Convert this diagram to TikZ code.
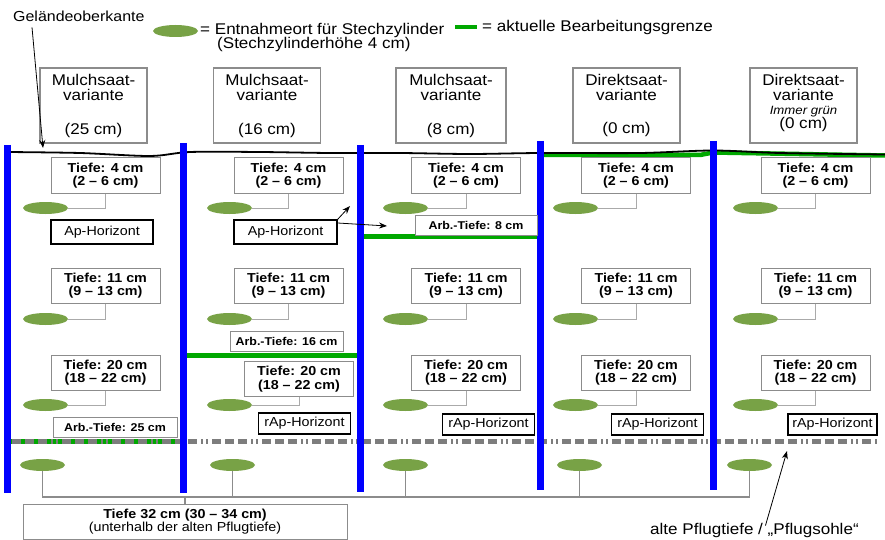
\documentclass[tikz,border=0pt]{standalone}
\usepackage{fontspec}
\setmainfont{Liberation Sans}[FakeStretch=1.1]
\usetikzlibrary{shapes.geometric,arrows.meta}
\definecolor{sblue}{RGB}{0,0,255}
\definecolor{sgreen}{RGB}{0,168,0}
\definecolor{ellgreen}{RGB}{120,162,70}
\definecolor{boxgray}{RGB}{140,140,140}
\definecolor{linegray}{RGB}{170,170,170}
\definecolor{busgray}{RGB}{140,140,140}
\definecolor{dashgray}{RGB}{125,125,125}
\tikzset{
  hdr/.style={draw=boxgray, line width=1.2pt, fill=white, minimum width=107pt, minimum height=75pt, inner sep=0pt},
  htxt/.style={font=\fontsize{15.5}{17}\selectfont, anchor=base, inner sep=0pt},
  itxt/.style={font=\itshape\fontsize{12}{14}\selectfont, anchor=base, inner sep=0pt},
  tbox/.style={draw=boxgray, line width=1pt, fill=white, minimum width=109pt, minimum height=35pt, inner sep=0pt, align=center, font=\bfseries\fontsize{13}{13.5}\selectfont},
  samp/.style={ellipse, fill=ellgreen, minimum width=45pt, minimum height=12pt, inner sep=0pt},
  hor/.style={draw=black, line width=1.3pt, fill=white, minimum width=102pt, minimum height=24pt, inner sep=0pt, font=\fontsize{13}{15}\selectfont},
  rhor/.style={draw=black, line width=1.3pt, fill=white, minimum width=92pt, minimum height=21pt, inner sep=0pt, font=\fontsize{13}{15}\selectfont},
  arb/.style={draw=boxgray, line width=1pt, fill=white, minimum height=20pt, inner sep=0pt, font=\bfseries\fontsize{11.3}{13}\selectfont},
  conn/.style={draw=linegray, line width=1pt},
  bconn/.style={draw=busgray, line width=1.3pt},
  bluel/.style={draw=sblue, line width=7pt},
  grl/.style={draw=sgreen, line width=5pt},
  plough/.style={draw=dashgray, line width=5pt, dash pattern=on 9pt off 4pt on 9pt off 4pt on 9pt off 4pt on 2pt off 3pt on 2pt off 4pt},
  ptr/.style={draw=black, line width=0.8pt, -{Stealth[length=8pt,width=6pt]}},
  lgtxt/.style={font=\fontsize{15.5}{17}\selectfont, anchor=base west, inner sep=0pt}
}
\begin{document}
\begin{tikzpicture}[x=1pt,y=-1pt]
\useasboundingbox[fill=white] (0,0) rectangle (885,540);

% legend
\node[font=\fontsize{14.5}{17}\selectfont, anchor=base west, inner sep=0pt] (geo) at (13,21.5) {Geländeoberkante};
\node[samp] (lell) at (175.5,31) {};
\node[lgtxt] (lt1) at (200,35) {= Entnahmeort für Stechzylinder};
\node[lgtxt] (lt2) at (217,49) {(Stechzylinderhöhe 4 cm)};
\coordinate (lgA) at (455,27.5);
\coordinate (lgB) at (477,27.5);
\draw[sgreen, line width=4pt] (lgA) -- (lgB);
\node[lgtxt] (lt3) at (482,32) {= aktuelle Bearbeitungsgrenze};

% header boxes
\node[hdr] (h1) at (93.5,105.5) {};
\node[hdr] (h2) at (267,105.5) {};
\node[hdr, minimum width=110pt] (h3) at (451,105.5) {};
\node[hdr] (h4) at (626.5,105.5) {};
\node[hdr] (h5) at (803.5,105.5) {};
\node[htxt] at (93.5,86) {Mulchsaat-};
\node[htxt] at (93.5,101) {variante};
\node[htxt] at (93.5,135) {(25 cm)};
\node[htxt] at (267,86) {Mulchsaat-};
\node[htxt] at (267,101) {variante};
\node[htxt] at (267,135) {(16 cm)};
\node[htxt] at (451,86) {Mulchsaat-};
\node[htxt] at (451,101) {variante};
\node[htxt] at (451,135) {(8 cm)};
\node[htxt] at (626.5,86) {Direktsaat-};
\node[htxt] at (626.5,101) {variante};
\node[htxt] at (626.5,134) {(0 cm)};
\node[htxt] at (803.5,86) {Direktsaat-};
\node[htxt] at (803.5,101) {variante};
\node[itxt] at (803.5,115) {Immer grün};
\node[htxt] at (803.5,129) {(0 cm)};

% working depth lines and plough sole
\draw[grl, line width=4.5pt] (540,155) -- (700,155) -- (713,152.5) -- (885,155.5);
\draw[line width=1.8pt] plot[smooth] coordinates {(7,152) (80,153) (150,156) (190,152) (260,152) (330,153) (400,153) (470,154) (540,153) (640,153) (713,150.5) (780,153) (885,154.5)};
\draw[grl] (362,236) -- (540,236);
\draw[grl] (185,355) -- (358,355);
\draw[grl] (10,441) -- (181,441);
\draw[plough] (12,441) -- (877,441);

% blue column separators
\draw[bluel] (7,145) -- (7,493);
\draw[bluel] (183,143) -- (183,493);
\draw[bluel] (360,145) -- (360,492);
\draw[bluel] (540,141) -- (540,490);
\draw[bluel] (713,141) -- (713,490);

% row 1: Tiefe 4 cm
\foreach \n/\bx/\ex in {1/105.5/45.5, 2/288.5/229.5, 3/466/405.5, 4/636/575.5, 5/815.5/755.5}{
  \node[tbox] (ta\n) at (\bx,175.5) {Tiefe: 4 cm\\(2 – 6 cm)};
  \node[samp] (ea\n) at (\ex,208) {};
  \draw[conn] (ta\n.south) |- (ea\n.east);
}
% row 2: Tiefe 11 cm
\foreach \n/\bx/\ex in {1/105.5/45.5, 2/288.5/229.5, 3/466/405.5, 4/636/575.5, 5/815.5/755.5}{
  \node[tbox] (tb\n) at (\bx,285.5) {Tiefe: 11 cm\\(9 – 13 cm)};
  \node[samp] (eb\n) at (\ex,319) {};
  \draw[conn] (tb\n.south) |- (eb\n.east);
}
% row 3: Tiefe 20 cm
\foreach \n/\bx/\by/\ex in {1/105.5/372.5/45.5, 2/299/379/229.5, 3/466/372.5/405.5, 4/636/372.5/575.5, 5/815.5/372.5/755.5}{
  \node[tbox] (tc\n) at (\bx,\by) {Tiefe: 20 cm\\(18 – 22 cm)};
  \node[samp] (ec\n) at (\ex,405) {};
  \draw[conn] (tc\n.south) |- (ec\n.east);
}

% horizon labels
\node[hor] (ap1) at (102,232) {Ap-Horizont};
\node[hor, minimum width=103pt] (ap2) at (285.5,232) {Ap-Horizont};
\node[rhor] (rap2) at (304.5,423.5) {rAp-Horizont};
\node[rhor] (rap3) at (488.5,424.5) {rAp-Horizont};
\node[rhor] (rap4) at (657.5,424.5) {rAp-Horizont};
\node[rhor, minimum width=89pt] (rap5) at (832.5,424.5) {rAp-Horizont};

% working depth labels
\node[arb, minimum width=122pt] (arb8) at (476,225) {Arb.-Tiefe: 8 cm};
\node[arb, minimum width=113pt] (arb16) at (286.5,341) {Arb.-Tiefe: 16 cm};
\node[arb, minimum width=124pt] (arb25) at (115,427) {Arb.-Tiefe: 25 cm};

% arrows from Ap-Horizont
\coordinate (apTipA) at (350,206);
\coordinate (apTipB) at (387,226);
\draw[ptr] (ap2.north east) -- (apTipA);
\draw[ptr] ([yshift=9pt]ap2.east) -- (apTipB);

% row 4: below old plough depth
\node[samp] (ed1) at (42.5,465) {};
\node[samp] (ed2) at (232.5,465) {};
\node[samp] (ed3) at (405.5,465) {};
\node[samp] (ed4) at (579.5,465) {};
\node[samp] (ed5) at (749.5,465) {};
\node[tbox, minimum width=324pt, minimum height=35pt, font=\fontsize{13}{13.5}\selectfont] (bot) at (185,521.5) {{\bfseries Tiefe 32 cm (30 – 34 cm)}\\(unterhalb der alten Pflugtiefe)};
\coordinate (bus) at (0,497);
\draw[bconn] (ed1.south) -- (ed1.south |- bus) -- (ed5.south |- bus) -- (ed5.south);
\draw[bconn] (ed2.south) -- (ed2.south |- bus);
\draw[bconn] (ed3.south) -- (ed3.south |- bus);
\draw[bconn] (ed4.south) -- (ed4.south |- bus);
\draw[bconn] (bot.north) -- (bot.north |- bus);

% pointer labels
\coordinate (geoTip) at (43,148);
\draw[ptr] ([xshift=19pt,yshift=-5.5pt]geo.south west) -- (geoTip);
\node[lgtxt] (pf) at (650,534) {alte Pflugtiefe / „Pflugsohle“};
\coordinate (pfTip) at (787,451);
\draw[ptr] ([xshift=11pt,yshift=-3pt]pf.north) -- (pfTip);
\end{tikzpicture}
\end{document}
